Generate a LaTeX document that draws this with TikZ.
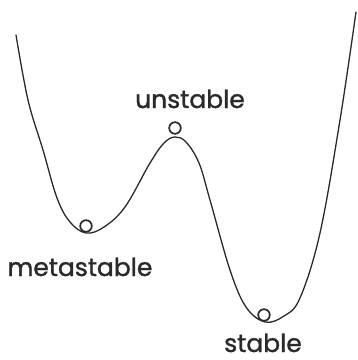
\documentclass[tikz,border=0pt]{standalone}
\usepackage{fontspec}
\setmainfont{Poppins}
\newfontfamily\labfont{Poppins}[FakeBold=1.3]
\definecolor{ink}{HTML}{2A2A2A}
\begin{document}
\begin{tikzpicture}[x=1pt,y=-1pt,
  curve/.style={draw=ink,line width=1.3pt,line cap=round,line join=round},
  ball/.style={draw=ink,line width=1.7pt,fill=white},
  lab/.style={text=ink,font=\labfont\fontsize{25}{26}\selectfont,anchor=base,inner sep=0pt}]
\useasboundingbox (0,0) rectangle (358,360);
\draw[curve] plot[smooth,tension=0.6] coordinates {
  (16,35) (28,100) (43,150) (57,198) (70,222) (86,233) (104,227) (125,207)
  (150,163) (164,143) (175,137) (186,142) (199,163) (210,200) (230,270)
  (246,307) (265,322) (284,316) (300,298) (320,233) (340,120) (356,12)};
\draw[ball] (86,226) circle (5.8);
\draw[ball] (175,128) circle (5.8);
\draw[ball] (264,315) circle (5.8);
\node[lab] (u) at (190,108) {unstable};
\node[lab] (m) at (80,276) {metastable};
\node[lab] (s) at (263,352) {stable};
\end{tikzpicture}
\end{document}
